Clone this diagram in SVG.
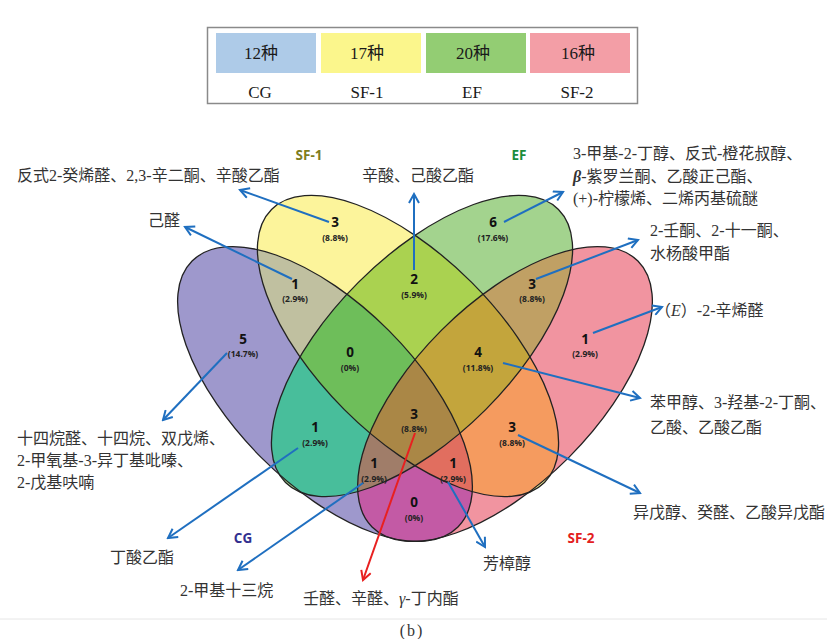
<svg xmlns="http://www.w3.org/2000/svg" width="827" height="639" viewBox="0 0 827 639">
<defs>
<style>
.lbl{font-family:"Liberation Serif","Noto Sans CJK SC",serif;font-size:16px;fill:#333}
.num{font-family:"Open Sans","DejaVu Sans",sans-serif;font-weight:700;font-size:13.5px;fill:#111;text-anchor:middle}
.pct{font-family:"Open Sans","DejaVu Sans",sans-serif;font-weight:700;font-size:8.5px;fill:#222;text-anchor:middle}
.set{font-family:"Open Sans","DejaVu Sans",sans-serif;font-weight:700;font-size:13.5px;text-anchor:middle}
.leg{font-family:"Liberation Serif","Noto Sans CJK SC",serif;font-size:17px;fill:#1a1a1a;text-anchor:middle}
.arr{fill:none;stroke:#1f6fc0;stroke-width:2;marker-end:url(#ab)}
.arr-r{fill:none;stroke:#e82020;stroke-width:2;marker-end:url(#ar)}
.outline{fill:none;stroke:#222;stroke-width:1.3}
</style>
<ellipse id="eA" cx="325" cy="394" rx="188" ry="90" transform="rotate(45 325 394)"/>
<ellipse id="eB" cx="408" cy="346" rx="193" ry="90" transform="rotate(45 408 346)"/>
<ellipse id="eC" cx="422" cy="346" rx="193" ry="90" transform="rotate(-45 422 346)"/>
<ellipse id="eD" cx="505" cy="394" rx="188" ry="90" transform="rotate(-45 505 394)"/>
<clipPath id="cA"><use href="#eA"/></clipPath>
<clipPath id="cB"><use href="#eB"/></clipPath>
<clipPath id="cC"><use href="#eC"/></clipPath>
<clipPath id="cD"><use href="#eD"/></clipPath>
<marker id="ab" viewBox="0 0 12 12" refX="10" refY="6" markerWidth="12" markerHeight="12" markerUnits="userSpaceOnUse" orient="auto"><path d="M1,1 L10,6 L1,11" fill="none" stroke="#1f6fc0" stroke-width="2"/></marker>
<marker id="ar" viewBox="0 0 12 12" refX="10" refY="6" markerWidth="12" markerHeight="12" markerUnits="userSpaceOnUse" orient="auto"><path d="M1,1 L10,6 L1,11" fill="none" stroke="#e82020" stroke-width="2"/></marker>
</defs>
<rect x="0" y="0" width="827" height="639" fill="#ffffff"/>
<line x1="0" y1="619" x2="827" y2="619" stroke="#e6e6e6" stroke-width="1"/>

<g id="legend">
<rect x="207.5" y="27.5" width="430" height="76" fill="#ffffff" stroke="#8a8a8a" stroke-width="1.5"/>
<rect x="216" y="33" width="100" height="40" fill="#aecbe8"/>
<rect x="321" y="33" width="100" height="40" fill="#fbf68c"/>
<rect x="426" y="33" width="100" height="40" fill="#93cd73"/>
<rect x="530" y="33" width="100" height="40" fill="#f39ea6"/>
<text class="leg" x="261" y="59">12种</text>
<text class="leg" x="367" y="59">17种</text>
<text class="leg" x="473" y="59">20种</text>
<text class="leg" x="578" y="59">16种</text>
<text class="leg" x="260" y="98">CG</text>
<text class="leg" x="367" y="98">SF-1</text>
<text class="leg" x="472" y="98">EF</text>
<text class="leg" x="577" y="98">SF-2</text>
</g>

<g id="regions">
<use href="#eA" fill="#9e98cc"/>
<use href="#eB" fill="#fcf49b"/>
<use href="#eC" fill="#a3d38e"/>
<use href="#eD" fill="#f194a0"/>
<g clip-path="url(#cA)"><use href="#eB" fill="#c0c0a0"/></g>
<g clip-path="url(#cA)"><use href="#eC" fill="#48be9b"/></g>
<g clip-path="url(#cA)"><use href="#eD" fill="#c35aa5"/></g>
<g clip-path="url(#cB)"><use href="#eC" fill="#aad250"/></g>
<g clip-path="url(#cB)"><use href="#eD" fill="#f59b5f"/></g>
<g clip-path="url(#cC)"><use href="#eD" fill="#c0a064"/></g>
<g clip-path="url(#cA)"><g clip-path="url(#cB)"><use href="#eC" fill="#6ebe5a"/></g></g>
<g clip-path="url(#cA)"><g clip-path="url(#cB)"><use href="#eD" fill="#e16e5f"/></g></g>
<g clip-path="url(#cA)"><g clip-path="url(#cC)"><use href="#eD" fill="#a07d69"/></g></g>
<g clip-path="url(#cB)"><g clip-path="url(#cC)"><use href="#eD" fill="#c3a53c"/></g></g>
<g clip-path="url(#cA)"><g clip-path="url(#cB)"><g clip-path="url(#cC)"><use href="#eD" fill="#aa8746"/></g></g></g>
</g>

<g id="node-CG"><use href="#eA" class="outline"/><text class="set" x="243" y="543" fill="#32308f">CG</text></g>
<g id="node-SF-1"><use href="#eB" class="outline"/><text class="set" x="309" y="160" fill="#7d7d1e">SF-1</text></g>
<g id="node-EF"><use href="#eC" class="outline"/><text class="set" x="519" y="160" fill="#1b8c3c">EF</text></g>
<g id="node-SF-2"><use href="#eD" class="outline"/><text class="set" x="581" y="543" fill="#e3201e">SF-2</text></g>

<g id="counts">
<g id="r-B"><text class="num" x="335" y="227">3</text><text class="pct" x="335" y="241">(8.8%)</text></g>
<g id="r-C"><text class="num" x="493" y="227">6</text><text class="pct" x="493" y="241">(17.6%)</text></g>
<g id="r-AB"><text class="num" x="295" y="289">1</text><text class="pct" x="295" y="302">(2.9%)</text></g>
<g id="r-BC"><text class="num" x="414" y="284">2</text><text class="pct" x="414" y="298">(5.9%)</text></g>
<g id="r-CD"><text class="num" x="532" y="289">3</text><text class="pct" x="532" y="302">(8.8%)</text></g>
<g id="r-A"><text class="num" x="243" y="344">5</text><text class="pct" x="243" y="357">(14.7%)</text></g>
<g id="r-ABC"><text class="num" x="350" y="357">0</text><text class="pct" x="350" y="371">(0%)</text></g>
<g id="r-BCD"><text class="num" x="478" y="357">4</text><text class="pct" x="478" y="371">(11.8%)</text></g>
<g id="r-D"><text class="num" x="585" y="344">1</text><text class="pct" x="585" y="357">(2.9%)</text></g>
<g id="r-ABCD"><text class="num" x="414" y="419">3</text><text class="pct" x="414" y="432">(8.8%)</text></g>
<g id="r-AC"><text class="num" x="315" y="432">1</text><text class="pct" x="315" y="446">(2.9%)</text></g>
<g id="r-BD"><text class="num" x="512" y="432">3</text><text class="pct" x="512" y="446">(8.8%)</text></g>
<g id="r-ACD"><text class="num" x="374" y="468">1</text><text class="pct" x="374" y="482">(2.9%)</text></g>
<g id="r-ABD"><text class="num" x="453" y="468">1</text><text class="pct" x="453" y="482">(2.9%)</text></g>
<g id="r-AD"><text class="num" x="414" y="507">0</text><text class="pct" x="414" y="521">(0%)</text></g>
</g>

<g id="connectors">
<line class="arr" x1="329" y1="222" x2="240" y2="190"/>
<line class="arr" x1="292" y1="279" x2="185" y2="227"/>
<line class="arr" x1="414" y1="270" x2="414" y2="194"/>
<line class="arr" x1="504" y1="222" x2="563" y2="192"/>
<line class="arr" x1="536" y1="279" x2="638" y2="240"/>
<line class="arr" x1="593" y1="333" x2="662" y2="307"/>
<line class="arr" x1="503" y1="363" x2="640" y2="398"/>
<line class="arr" x1="518" y1="435" x2="640" y2="493"/>
<line class="arr" x1="448" y1="482" x2="485" y2="547"/>
<line class="arr-r" x1="415" y1="433" x2="363" y2="580"/>
<line class="arr" x1="363" y1="483" x2="238" y2="570"/>
<line class="arr" x1="298" y1="448" x2="168" y2="538"/>
<line class="arr" x1="227" y1="353" x2="163" y2="420"/>
</g>

<g id="labels">
<text class="lbl" x="17" y="181">反式2-癸烯醛、2,3-辛二酮、辛酸乙酯</text>
<text class="lbl" x="362" y="181">辛酸、己酸乙酯</text>
<text class="lbl" x="148" y="226">己醛</text>
<text class="lbl" x="573" y="159">3-甲基-2-丁醇、反式-橙花叔醇、</text>
<text class="lbl" x="573" y="182"><tspan font-style="italic" font-weight="700">β</tspan>-紫罗兰酮、乙酸正己酯、</text>
<text class="lbl" x="573" y="204">(+)-柠檬烯、二烯丙基硫醚</text>
<text class="lbl" x="650" y="236">2-壬酮、2-十一酮、</text>
<text class="lbl" x="650" y="259">水杨酸甲酯</text>
<text class="lbl" x="655" y="316">（<tspan font-style="italic">E</tspan>）-2-辛烯醛</text>
<text class="lbl" x="650" y="408">苯甲醇、3-羟基-2-丁酮、</text>
<text class="lbl" x="650" y="433">乙酸、乙酸乙酯</text>
<text class="lbl" x="633" y="518">异戊醇、癸醛、乙酸异戊酯</text>
<text class="lbl" x="17" y="444">十四烷醛、十四烷、双戊烯、</text>
<text class="lbl" x="17" y="466">2-甲氧基-3-异丁基吡嗪、</text>
<text class="lbl" x="17" y="488">2-戊基呋喃</text>
<text class="lbl" x="110" y="563">丁酸乙酯</text>
<text class="lbl" x="180" y="596">2-甲基十三烷</text>
<text class="lbl" x="303" y="604">壬醛、辛醛、<tspan font-style="italic">γ</tspan>-丁内酯</text>
<text class="lbl" x="483" y="569">芳樟醇</text>
<text class="lbl" x="412" y="636" text-anchor="middle" font-size="17" letter-spacing="2">(b)</text>
</g>
</svg>
